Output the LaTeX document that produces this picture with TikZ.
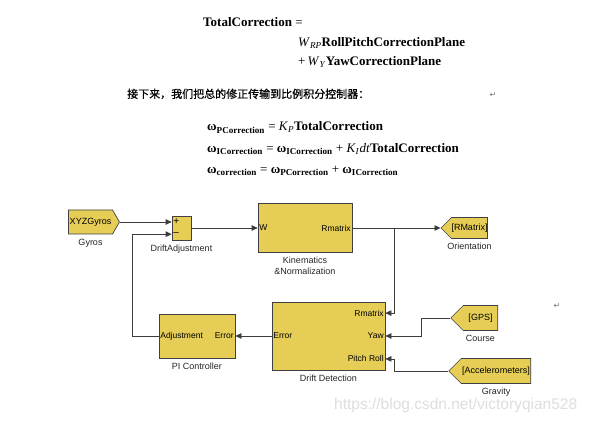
\documentclass[tikz,border=0pt]{standalone}
\usepackage{fontspec}
\setmainfont{Liberation Serif}
\setsansfont{Liberation Sans}
\newfontfamily\cjk[FakeBold=0.8]{Noto Sans CJK SC}
\newfontfamily\symb{DejaVu Sans}
\usetikzlibrary{arrows.meta,calc,positioning,shapes.symbols}
\definecolor{blockyellow}{RGB}{230,206,86}
\definecolor{wirec}{RGB}{60,60,60}

\begin{document}
\begin{tikzpicture}[x=1pt,y=-1pt,>={Triangle[length=6pt,width=5.5pt]},
  blk/.style={draw=black!75,fill=blockyellow,line width=0.7pt,inner sep=0pt},
  tag/.style={blk,shape=signal,signal pointer angle=90,font=\sffamily\fontsize{9}{10}\selectfont},
  port/.style={font=\sffamily\fontsize{8.5}{9}\selectfont,inner sep=1.5pt},
  lbl/.style={font=\sffamily\fontsize{9}{10.5}\selectfont,text=black!85,align=center},
  wire/.style={draw=wirec,line width=0.7pt},
  eq/.style={anchor=base west,inner sep=0pt,font=\fontsize{13}{15}\selectfont}]
  \fill[white] (0,0) rectangle (590,422);
  \useasboundingbox (0,0) rectangle (590,422);

  \node[eq] (tc) at (203,27) {\textbf{TotalCorrection} =};
  \node[eq] (wrp) at (298,46.5) {\textit{W}\textsubscript{\textit{RP}}\textbf{RollPitchCorrectionPlane}};
  \node[eq] (wy) at (298,66) {+\,\textit{W}\textsubscript{\textit{Y}}\textbf{YawCorrectionPlane}};
  \node[eq,font=\cjk\fontsize{11}{12}\selectfont] (txt) at (127,98) {接下来，我们把总的修正传输到比例积分控制器：};
  \node[font=\symb\fontsize{8}{9}\selectfont,text=black!55] (ret1) at (493,95) {↵};
  \node[eq] (wp) at (207,131) {\textbf{ω}\textsubscript{\textbf{PCorrection}} = \textit{K}\textsubscript{\textit{P}}\textbf{TotalCorrection}};
  \node[eq] (wi) at (207,152.5) {\textbf{ω}\textsubscript{\textbf{ICorrection}} = \textbf{ω}\textsubscript{\textbf{ICorrection}} + \textit{K}\textsubscript{\textit{I}}\textit{dt}\textbf{TotalCorrection}};
  \node[eq] (wc) at (207,173.5) {\textbf{ω}\textsubscript{\textbf{correction}} = \textbf{ω}\textsubscript{\textbf{PCorrection}} + \textbf{ω}\textsubscript{\textbf{ICorrection}}};

  \node[tag,signal to=east,signal pointer angle=120,minimum width=51pt,minimum height=24pt] (gyros) at (90.5,222) {XYZGyros};
  \node[blk,minimum width=19pt,minimum height=24pt] (sum) at (181.5,228) {};
  \node[blk,minimum width=94pt,minimum height=49pt] (kin) at (305,228) {};
  \node[tag,signal to=west,minimum width=46pt,minimum height=21pt] (orient) at (469.5,228) {[RMatrix]};
  \node[blk,minimum width=113pt,minimum height=68pt] (drift) at (328.5,336) {};
  \node[blk,minimum width=76pt,minimum height=44pt] (pic) at (197,336) {};
  \node[tag,signal to=west,minimum width=47pt,minimum height=25pt] (gps) at (480.5,318) {[GPS]};
  \node[tag,signal to=west,minimum width=82pt,minimum height=25pt] (accel) at (496,371) {[Accelerometers]};

  \coordinate (sum-p) at (gyros.east -| sum.west);
  \coordinate (sum-m) at ($(sum.north west)!0.75!(sum.south west)$);
  \coordinate (drift-r) at ($(drift.north east)!1/6!(drift.south east)$);
  \coordinate (drift-y) at (drift.east);
  \coordinate (drift-pr) at ($(drift.north east)!5/6!(drift.south east)$);
  \coordinate (br) at (394,228);

  \node[port,anchor=west,font=\sffamily\fontsize{10}{10}\selectfont,inner sep=1.5pt] (plus) at (sum-p) {+};
  \node[port,anchor=west,font=\sffamily\fontsize{10}{10}\selectfont,inner sep=1.5pt] (minus) at (sum-m) {\textendash};
  \node[port,anchor=west] (kinw) at (kin.west) {W};
  \node[port,anchor=east] (kinr) at (kin.east) {Rmatrix};
  \node[port,anchor=west] (drifte) at (drift.west) {Error};
  \node[port,anchor=east] (driftr) at (drift-r) {Rmatrix};
  \node[port,anchor=east] (drifty) at (drift-y) {Yaw};
  \node[port,anchor=east] (driftp) at (drift-pr) {Pitch Roll};
  \node[port,anchor=west] (pica) at (pic.west) {Adjustment};
  \node[port,anchor=east] (pice) at (pic.east) {Error};

  \node[lbl,below=1pt of gyros] (gyrosl) {Gyros};
  \node[lbl,below=1pt of sum] (suml) {DriftAdjustment};
  \node[lbl,below=1pt of kin] (kinl) {Kinematics\\\&Normalization};
  \node[lbl,below=1pt of orient] (orientl) {Orientation};
  \node[lbl,below=1pt of drift] (driftl) {Drift Detection};
  \node[lbl,below=1pt of pic] (picl) {PI Controller};
  \node[lbl,below=1pt of gps] (gpsl) {Course};
  \node[lbl,below=1pt of accel] (accell) {Gravity};

  \draw[wire,->] (gyros.east) -- (sum-p);
  \draw[wire,->] (sum.east) -- (sum.east -| kin.west);
  \draw[wire,->] (kin.east) -- (kin.east -| orient.west);
  \draw[wire,->] (br) |- (drift-r);
  \draw[wire,->] (drift.west) -- (pic.east);
  \draw[wire,->] (pic.west) -- ++(-26,0) |- (sum-m);
  \draw[wire,->] (gps.west) -| ([xshift=36pt]drift-y) -- (drift-y);
  \draw[wire,->] (accel.west) -| ([xshift=9pt]drift-pr) -- (drift-pr);

  \node[font=\symb\fontsize{8}{9}\selectfont,text=black!55] (ret2) at (557,306) {↵};
  \node[font=\sffamily\fontsize{15.5}{16}\selectfont,text=black!13,anchor=west,inner sep=0pt] (wm) at (334,405) {https://blog.csdn.net/victoryqian528};
\end{tikzpicture}
\end{document}
